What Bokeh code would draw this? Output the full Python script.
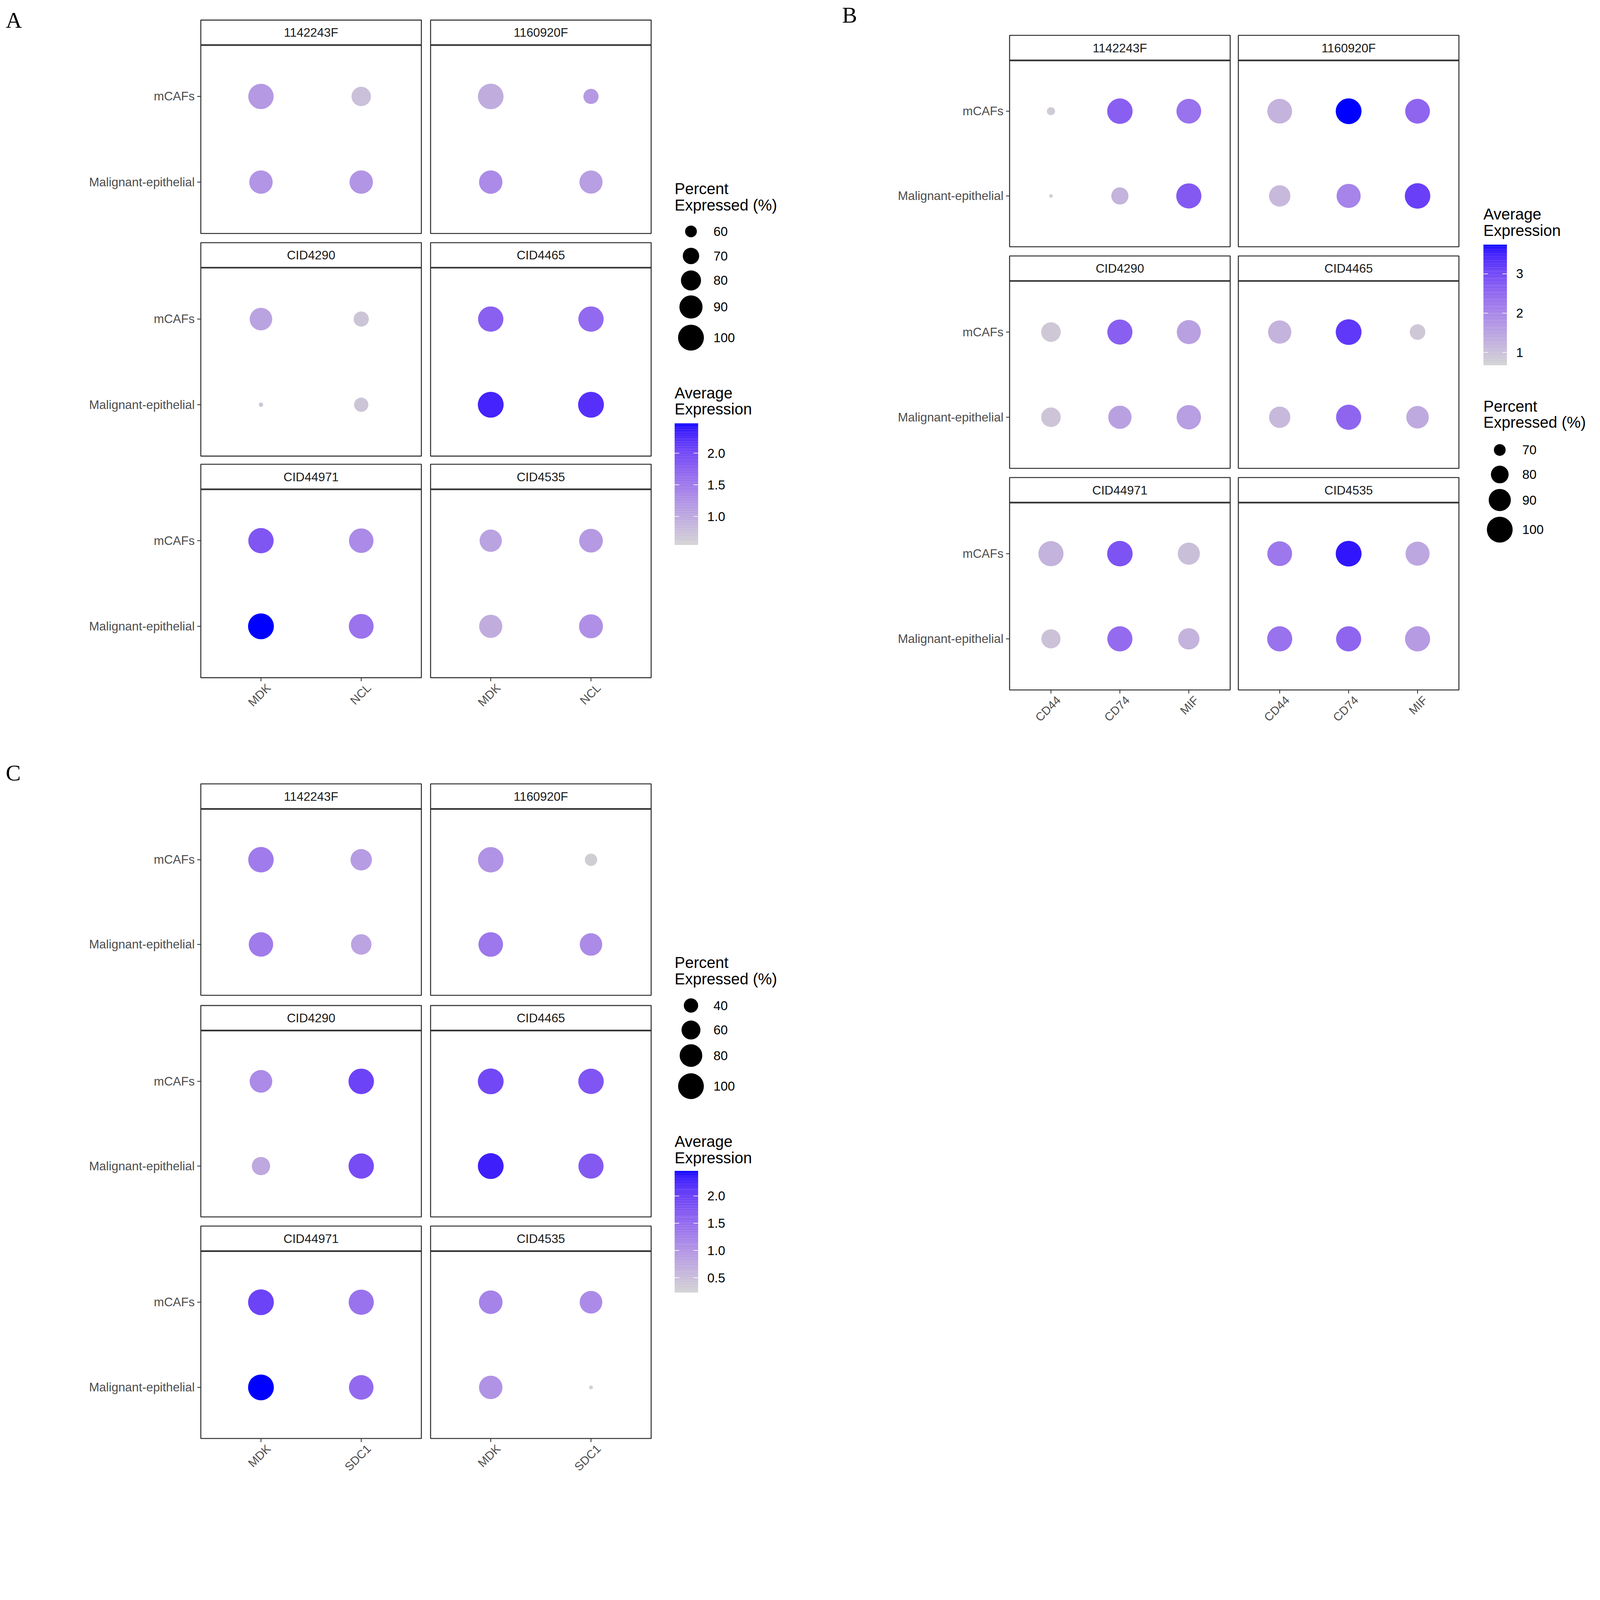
import math
from bokeh.plotting import figure
from bokeh.models import Range1d, ColumnDataSource
from bokeh.core.properties import value
from bokeh.embed import file_html
from bokeh.resources import INLINE

# ---------------- data ----------------
samples = ["1142243F", "1160920F", "CID4290", "CID4465", "CID44971", "CID4535"]
cell_types = ["mCAFs", "Malignant-epithelial"]

A_genes = ["MDK", "NCL"]
# per sample: [mCAFs gene1, mCAFs gene2, Malig gene1, Malig gene2]
A_pct = [[98, 78, 91, 91], [99, 67, 91, 90], [88, 67, 51, 65],
         [98, 98, 100, 100], [98, 95, 100, 96], [87, 92, 90, 93]]
A_avg = [[1.15, 0.75, 1.2, 1.2], [0.95, 1.15, 1.3, 1.1], [1.05, 0.7, 0.7, 0.7],
         [1.75, 1.65, 2.3, 2.2], [1.85, 1.3, 2.47, 1.55], [1.05, 1.15, 0.95, 1.25]]
A_size_breaks = [60, 70, 80, 90, 100]
A_col_breaks = [1.0, 1.5, 2.0]
A_col_labels = ["1.0", "1.5", "2.0"]
A_col_lim = [0.55, 2.47]

B_genes = ["CD44", "CD74", "MIF"]
B_pct = [[66, 99, 97, 63, 79, 98], [97, 100, 97, 88, 95, 99], [84, 98, 95, 84, 93, 96],
         [93, 100, 76, 88, 98, 91], [98, 99, 90, 83, 98, 88], [97, 100, 95, 98, 98, 98]]
B_avg = [[0.8, 2.6, 2.3, 0.7, 1.2, 2.7], [1.2, 3.74, 2.5, 1.1, 2.0, 3.1], [0.85, 2.6, 1.5, 0.9, 1.5, 1.55],
         [1.2, 3.2, 0.85, 1.1, 2.5, 1.35], [1.2, 2.8, 1.0, 0.95, 2.4, 1.2], [2.2, 3.6, 1.4, 2.3, 2.5, 1.6]]
B_size_breaks = [70, 80, 90, 100]
B_col_breaks = [1, 2, 3]
B_col_labels = ["1", "2", "3"]
B_col_lim = [0.675, 3.74]

C_genes = ["MDK", "SDC1"]
C_pct = [[98, 73, 91, 68], [98, 33, 92, 79], [80, 98, 57, 97],
         [100, 98, 100, 96], [100, 96, 100, 92], [86, 80, 85, 15]]
C_avg = [[1.3, 0.9, 1.3, 0.8], [1.0, 0.3, 1.35, 1.1], [1.1, 1.95, 0.75, 1.85],
         [1.9, 1.75, 2.3, 1.7], [1.95, 1.4, 2.46, 1.5], [1.2, 1.1, 1.0, 0.25]]
C_size_breaks = [40, 60, 80, 100]
C_col_breaks = [0.5, 1.0, 1.5, 2.0]
C_col_labels = ["0.5", "1.0", "1.5", "2.0"]
C_col_lim = [0.23, 2.46]

# ---------------- helpers ----------------
Z = 1 / 1.165                 # observed page zoom compensation
S = 4739 / 1556.0 * Z         # css px per layout unit
W, H = int(4723 * Z) + 14, int(4384 * Z) + 14
X0 = 8 * 1.165 / (4739 / 1556.0) - 2.5
FONT = value("Liberation Sans")


def srgb_to_lab(h):
    rgb = [int(h[i:i + 2], 16) / 255 for i in (1, 3, 5)]
    lin = [c / 12.92 if c <= 0.04045 else ((c + 0.055) / 1.055) ** 2.4 for c in rgb]
    X = 0.4124 * lin[0] + 0.3576 * lin[1] + 0.1805 * lin[2]
    Y = 0.2126 * lin[0] + 0.7152 * lin[1] + 0.0722 * lin[2]
    Zc = 0.0193 * lin[0] + 0.1192 * lin[1] + 0.9505 * lin[2]
    Xn, Yn, Zn = 0.95047, 1.0, 1.08883
    f = lambda t: t ** (1 / 3) if t > 0.008856 else 7.787 * t + 16 / 116
    fx, fy, fz = f(X / Xn), f(Y / Yn), f(Zc / Zn)
    return (116 * fy - 16, 500 * (fx - fy), 200 * (fy - fz))


def lab_to_hex(L, a, b):
    fy = (L + 16) / 116
    fx = fy + a / 500
    fz = fy - b / 200
    finv = lambda t: t ** 3 if t ** 3 > 0.008856 else (t - 16 / 116) / 7.787
    X, Y, Zc = 0.95047 * finv(fx), finv(fy), 1.08883 * finv(fz)
    r = 3.2406 * X - 1.5372 * Y - 0.4986 * Zc
    g = -0.9689 * X + 1.8758 * Y + 0.0415 * Zc
    bb = 0.0557 * X - 0.2040 * Y + 1.0570 * Zc
    out = []
    for c in (r, g, bb):
        c = max(0.0, c)
        c = 12.92 * c if c <= 0.0031308 else 1.055 * c ** (1 / 2.4) - 0.055
        out.append(max(0, min(255, round(c * 255))))
    return "#%02x%02x%02x" % tuple(out)


LO = srgb_to_lab("#D3D3D3")
HI = srgb_to_lab("#0000FF")


def colour(v, lim):
    t = max(0.0, min(1.0, (v - lim[0]) / (lim[1] - lim[0])))
    return lab_to_hex(*[LO[i] + t * (HI[i] - LO[i]) for i in range(3)])


p = figure(width=W, height=H, output_backend="svg", toolbar_location=None,
           x_range=Range1d(X0, X0 + W / S), y_range=Range1d(X0 + H / S, X0),
           x_axis_type=None, y_axis_type=None, min_border=0)
p.outline_line_color = None
p.xgrid.visible = False
p.ygrid.visible = False
p.background_fill_color = "white"

TXT = "%.1fpx" % (12 * S)
XTXT = "%.1fpx" % (11.5 * S)
STRIP_TXT = "%.1fpx" % (12 * S)
LEG_TITLE = "%.1fpx" % (15.3 * S)
LEG_LAB = "%.1fpx" % (12.6 * S)


def draw_group(genes, pct, avg, col_lim, size_a, size_p0, col_lefts, strip_tops, bottoms):
    n = len(genes)
    pw = 216
    sx, sy, ssize, scol = [], [], [], []
    for si, s in enumerate(samples):
        c, r = si % 2, si // 2
        left = col_lefts[c]
        top = strip_tops[r]
        ptop = top + 24.5
        bot = bottoms[r]
        ph = bot - ptop
        p.quad(left=left, right=left + pw, top=top, bottom=ptop, fill_color="white",
               line_color="#333333", line_width=1.0 * S)
        p.quad(left=left, right=left + pw, top=ptop, bottom=bot, fill_color=None,
               line_color="#333333", line_width=1.0 * S)
        p.segment(x0=left, x1=left + pw, y0=ptop, y1=ptop, line_color="#333333", line_width=1.6 * S)
        p.text(x=[left + pw / 2], y=[top + 12.5], text=[s], text_font=FONT, text_font_size=value(STRIP_TXT),
               text_align="center", text_baseline="middle", text_color="#1a1a1a")
        for ri, ct in enumerate(cell_types):
            y = ptop + (0.6 + ri) * ph / 2.2
            for gi, g in enumerate(genes):
                x = left + (0.6 + gi) * pw / (n - 1 + 1.2)
                k = ri * n + gi
                pv = pct[si][k]
                sx.append(x)
                sy.append(y)
                ssize.append(math.sqrt(max(size_a * (pv - size_p0), 16)) * Z)
                scol.append(colour(avg[si][k], col_lim))
            if c == 0:
                p.segment(x0=left - 3.5, x1=left, y0=y, y1=y, line_color="#333333", line_width=0.8 * S)
                p.text(x=[left - 6], y=[y], text=[ct], text_font=FONT, text_font_size=value(TXT),
                       text_align="right", text_baseline="middle", text_color="#4d4d4d")
        if r == 2:
            for gi, g in enumerate(genes):
                x = left + (0.6 + gi) * pw / (n - 1 + 1.2)
                p.segment(x0=x, x1=x, y0=bot, y1=bot + 3.5, line_color="#333333", line_width=0.8 * S)
                p.text(x=[x + 3], y=[bot + 3.5], text=[g], text_font=FONT, text_font_size=value(XTXT),
                       text_align="right", text_baseline="top", angle=math.pi / 4,
                       text_color="#4d4d4d")
    src = ColumnDataSource(dict(x=sx, y=sy, size=ssize, color=scol))
    p.scatter("x", "y", size="size", fill_color="color", line_color=None, source=src)


def size_legend(breaks, size_a, size_p0, x, ytitle, ys):
    p.text(x=[x, x], y=[ytitle, ytitle + 16], text=["Percent", "Expressed (%)"], text_font=FONT,
           text_font_size=value(LEG_TITLE), text_baseline="middle", text_color="black")
    for b, yy in zip(breaks, ys):
        d = math.sqrt(size_a * (b - size_p0)) * Z
        p.scatter([x + 16], [yy], size=d, fill_color="black", line_color=None)
        p.text(x=[x + 38], y=[yy], text=[str(b)], text_font=FONT, text_font_size=value(LEG_LAB),
               text_baseline="middle", text_color="black")


def colour_legend(lim, breaks, labels, x, ytitle, ytop, ybot):
    p.text(x=[x, x], y=[ytitle, ytitle + 16], text=["Average", "Expression"], text_font=FONT,
           text_font_size=value(LEG_TITLE), text_baseline="middle", text_color="black")
    nstep = 120
    tops, bots, cols = [], [], []
    for i in range(nstep):
        v0 = lim[0] + (lim[1] - lim[0]) * i / nstep
        v1 = lim[0] + (lim[1] - lim[0]) * (i + 1) / nstep
        bots.append(ybot - (ybot - ytop) * i / nstep)
        tops.append(ybot - (ybot - ytop) * (i + 1) / nstep - 0.05)
        cols.append(colour((v0 + v1) / 2, lim))
    p.quad(left=x, right=x + 23, top=tops, bottom=bots, fill_color=cols, line_color=None)
    for b, lab in zip(breaks, labels):
        yy = ybot - (ybot - ytop) * (b - lim[0]) / (lim[1] - lim[0])
        p.segment(x0=[x, x + 18.5], x1=[x + 4.5, x + 23], y0=[yy, yy], y1=[yy, yy],
                  line_color="white", line_width=0.6 * S)
        p.text(x=[x + 32], y=[yy], text=[lab], text_font=FONT, text_font_size=value(LEG_LAB),
               text_baseline="middle", text_color="black")


draw_group(A_genes, A_pct, A_avg, A_col_lim, 118, 49.6, [197, 422], [20, 238, 455], [229, 447, 664])
size_legend(A_size_breaks, 118, 49.6, 661, 185, [227, 251, 275, 301, 331])
colour_legend(A_col_lim, A_col_breaks, A_col_labels, 661, 385, 415, 534)

draw_group(B_genes, B_pct, B_avg, B_col_lim, 157, 62.2, [989, 1213], [35, 251, 468], [242, 459, 676])
colour_legend(B_col_lim, B_col_breaks, B_col_labels, 1453, 210, 240, 358)
size_legend(B_size_breaks, 157, 62.2, 1453, 398, [441, 465, 490, 519])

draw_group(C_genes, C_pct, C_avg, C_col_lim, 68, 13, [197, 422], [768, 985, 1201], [975, 1192, 1409])
size_legend(C_size_breaks, 68, 13, 661, 943, [985, 1009, 1034, 1064])
colour_legend(C_col_lim, C_col_breaks, C_col_labels, 661, 1118, 1147, 1266)

for lab, x, y in [("A", 6, 20), ("B", 825, 15), ("C", 6, 757)]:
    p.text(x=[x], y=[y], text=[lab], text_font=value("Liberation Serif"),
           text_font_size=value("%.1fpx" % (22 * S)), text_baseline="middle", text_color="black")

open("out.html", "w").write(file_html(p, INLINE))
